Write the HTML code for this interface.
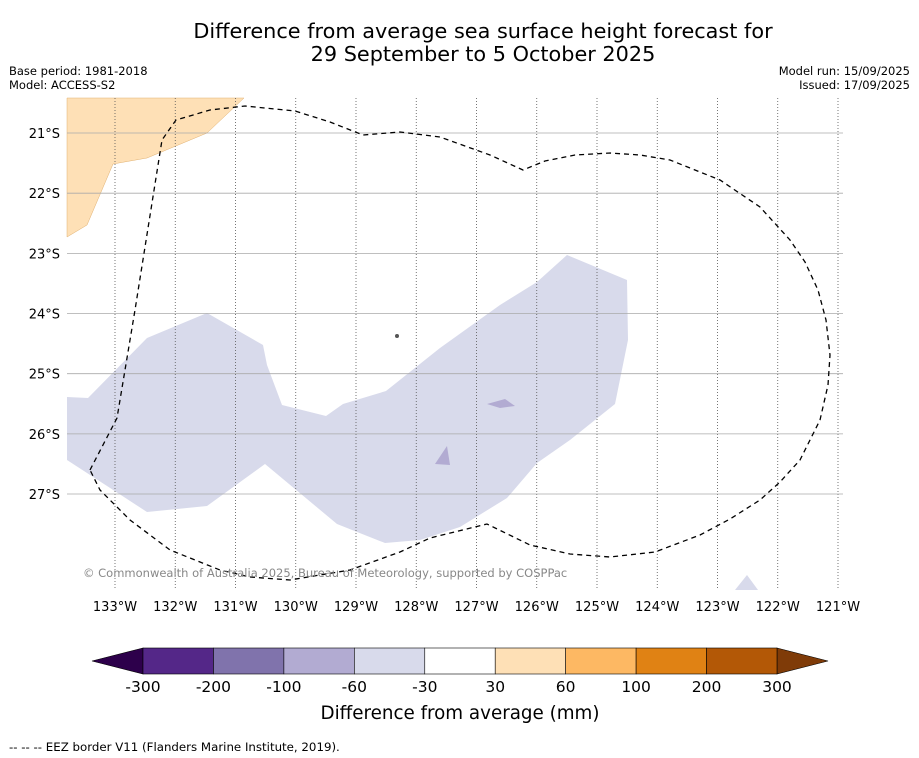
<!DOCTYPE html>
<html><head><meta charset="utf-8"><style>
body{margin:0;background:#fff;font-family:"Liberation Sans","DejaVu Sans",sans-serif;}
svg{display:block}
</style></head><body>
<svg width="919" height="758" viewBox="0 0 919 758" font-family="DejaVu Sans, Liberation Sans, sans-serif">
<rect width="919" height="758" fill="#fff"/>
<text x="483" y="38" font-size="20.8" text-anchor="middle">Difference from average sea surface height forecast for</text>
<text x="483" y="61" font-size="20.8" text-anchor="middle">29 September to 5 October 2025</text>
<text x="9" y="75" font-size="11.5">Base period: 1981-2018</text>
<text x="9" y="89" font-size="11.5">Model: ACCESS-S2</text>
<text x="910" y="75" font-size="11.5" text-anchor="end">Model run: 15/09/2025</text>
<text x="910" y="89" font-size="11.5" text-anchor="end">Issued: 17/09/2025</text>
<g>
<polygon fill="#fee0b6" stroke="#e0b070" stroke-width="0.5" points="67,98 244,98 207,133 147,158 113,164 87,225 67,237"/>
<polygon fill="#d8daeb" points="67,397 88,398 147,338 207,313 263,345 267,365 282,405 326,416 343,404 386,391 440,348 500,305 537,282 567,255 627,280 628,340 615,404 570,440 537,463 507,498 460,527 420,540 385,543 337,524 265,464 207,506 147,512 67,460"/>
<polygon fill="#b2abd2" points="487,404 505,399 515,406 500,408"/>
<polygon fill="#b2abd2" points="435,464 447,446 450,465"/>
<polygon fill="#d8daeb" points="735,590 747,575 758,590"/>
<g id="grid"></g>
<polyline fill="none" stroke="#000" stroke-width="1.3" stroke-dasharray="5,4" points="90,470 117,418 135,310 162,140 176,120 210,110 245,106 295,111 330,122 363,135 400,132 440,137 490,155 523,170 545,161 575,155 610,153 640,155 670,160 720,180 760,207 790,240 805,262 818,290 826,320 830,355 828,385 820,420 800,460 780,482 760,500 730,519 700,535 655,552 610,557 570,554 530,545 487,524 430,538 400,552 350,570 290,580 250,577 220,570 170,550 130,520 100,490 90,470"/>
<circle cx="397" cy="336" r="2" fill="#555"/>
<text x="83" y="577" font-size="11.5" fill="#888">© Commonwealth of Australia 2025, Bureau of Meteorology, supported by COSPPac</text>
</g>
<g id="cbar"></g>
<text x="460" y="719" font-size="18.3" text-anchor="middle">Difference from average (mm)</text>
<text x="9" y="751" font-size="11.8">--  --  -- EEZ border V11 (Flanders Marine Institute, 2019).</text>
</svg>
<script>
const lonTicks=[133,132,131,130,129,128,127,126,125,124,123,122,121];
const latTicks=[21,22,23,24,25,26,27];
const cbLabels=["-300","-200","-100","-60","-30","30","60","100","200","300"];
const cbColors=["#542788","#8073ac","#b2abd2","#d8daeb","#ffffff","#fee0b6","#fdb863","#e08214","#b35806"];
const NS="http://www.w3.org/2000/svg";
const x=lon=>115+(133-lon)*60.25;
const y=lat=>133+(lat-21)*60.17;
const g=document.getElementById('grid');
function mk(t,a,p){const e=document.createElementNS(NS,t);for(const k in a)e.setAttribute(k,a[k]);p.appendChild(e);return e;}
lonTicks.forEach(l=>{
 const e=mk('line',{x1:x(l),x2:x(l),y1:98,y2:590,stroke:'#555','stroke-width':0.8,'stroke-dasharray':'1,2'},g);
 
 
 const t=mk('text',{x:x(l),y:611,'font-size':13,'text-anchor':'middle'},g);t.textContent=l+'°W';
 
 
});
latTicks.forEach(l=>{
 const e=mk('line',{x1:67,x2:843,y1:y(l),y2:y(l),stroke:'#aaa','stroke-width':0.8},g);
 
 
 const t=mk('text',{x:60,y:y(l)+5,'font-size':13,'text-anchor':'end'},g);t.textContent=l+'°S';
 
 
});
const c=document.getElementById('cbar');
const x0=143,w=(777-143)/cbColors.length,y0=648,h=26;
let p=mk('polygon',{points:`${x0},${y0} 92,${y0+h/2} ${x0},${y0+h}`,fill:'#2d004b',stroke:'#000','stroke-width':0.6},c);


p=mk('polygon',{points:`777,${y0} 828,${y0+h/2} 777,${y0+h}`,fill:'#7f3b08',stroke:'#000','stroke-width':0.6},c);


cbColors.forEach((col,i)=>{
 const r=mk('rect',{x:x0+i*w,y:y0,width:w,height:h,fill:col,stroke:'#000','stroke-width':0.6},c);
 
 
});
cbLabels.forEach((s,i)=>{
 const t=mk('text',{x:x0+i*w,y:692,'font-size':15.5,'text-anchor':'middle'},c);t.textContent=s;
 
 
});
</script>
</body></html>
